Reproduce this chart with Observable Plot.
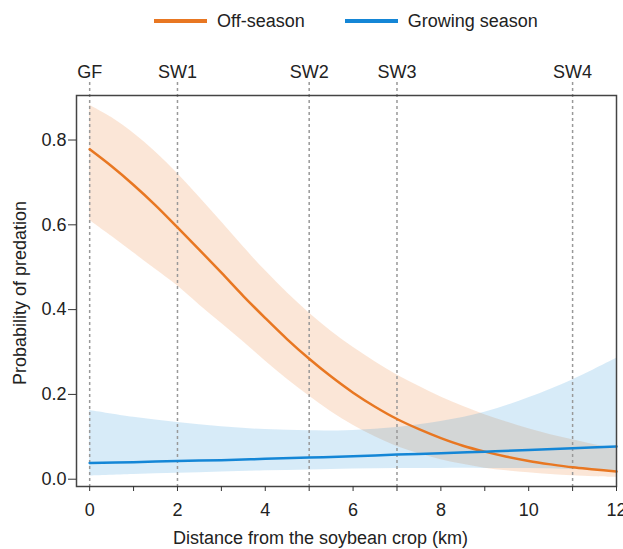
<!DOCTYPE html>
<html>
<head>
<meta charset="utf-8">
<script src="https://cdn.jsdelivr.net/npm/d3@7"></script>
<script src="https://cdn.jsdelivr.net/npm/@observablehq/plot@0.6"></script>
<style>
  body { margin: 0; background: #fff; font-family: "Liberation Sans", Arial, sans-serif; }
  #legend { box-sizing: border-box; width: 623px; height: 42px; padding-left: 69px; display: flex; align-items: center; justify-content: center; font-size: 18px; color: #222; }
  .item { display: flex; align-items: center; }
  .item + .item { margin-left: 40px; }
  .sw { display: inline-block; width: 53px; height: 4px; margin-right: 10px; }
  #chart svg { display: block; }
</style>
</head>
<body>
<div id="legend"></div>
<div id="chart"></div>
<script>
// ---- data ----
const seriesNames = ["Off-season", "Growing season"];
const seriesColors = ["#E87722", "#1486D6"];

// Off-season: distance (km), fitted probability and 95% band
const offDistance = [0,0.5,1,1.5,2,2.5,3,3.5,4,4.5,5,5.5,6,6.5,7,7.5,8,8.5,9,9.5,10,10.5,11,11.5,12];
const offFit   = [0.778,0.738,0.694,0.646,0.594,0.541,0.487,0.432,0.380,0.330,0.284,0.242,0.204,0.171,0.142,0.118,0.097,0.079,0.065,0.053,0.043,0.035,0.028,0.023,0.018];
const offUpper = [0.882,0.853,0.816,0.772,0.721,0.665,0.607,0.548,0.492,0.440,0.392,0.349,0.311,0.277,0.246,0.219,0.194,0.172,0.152,0.135,0.119,0.105,0.093,0.081,0.072];
const offLower = [0.611,0.573,0.534,0.495,0.456,0.411,0.368,0.324,0.279,0.236,0.196,0.159,0.127,0.100,0.077,0.060,0.046,0.035,0.026,0.020,0.015,0.011,0.008,0.006,0.0045];

// Growing season
const growDistance = [0,1,2,3,4,5,6,7,8,9,10,11,12];
const growFit   = [0.038,0.040,0.043,0.045,0.048,0.051,0.054,0.058,0.061,0.065,0.069,0.073,0.077];
const growUpper = [0.162,0.146,0.134,0.124,0.117,0.114,0.115,0.122,0.136,0.158,0.192,0.234,0.285];
const growLower = [0.0075,0.011,0.014,0.017,0.020,0.022,0.024,0.025,0.0255,0.0255,0.025,0.023,0.020];

// Sites marked along the top
const siteNames = ["GF","SW1","SW2","SW3","SW4"];
const siteDistances = [0,2,5,7,11];

// Axes
const xTicks = [0,1,2,3,4,5,6,7,8,9,10,11,12];
const yTicks = [0,0.2,0.4,0.6,0.8];
const xTitle = "Distance from the soybean crop (km)";
const yTitle = "Probability of predation";

// ---- legend ----
const legend = document.getElementById("legend");
seriesNames.forEach((name, i) => {
  const item = document.createElement("div");
  item.className = "item";
  const sw = document.createElement("span");
  sw.className = "sw";
  sw.style.background = seriesColors[i];
  const lab = document.createElement("span");
  lab.textContent = name;
  item.appendChild(sw); item.appendChild(lab);
  legend.appendChild(item);
});

// ---- tables ----
const offRows = offDistance.map((d, i) => ({d, fit: offFit[i], lo: offLower[i], hi: offUpper[i]}));
const growRows = growDistance.map((d, i) => ({d, fit: growFit[i], lo: growLower[i], hi: growUpper[i]}));

const FONT = "'Liberation Sans', Arial, sans-serif";
const FS = 18;
const plot = Plot.plot({
  width: 623,
  height: 507,
  marginTop: 53,
  marginBottom: 63,
  marginLeft: 76,
  marginRight: 7,
  x: {domain: [-0.3, 12]},
  y: {domain: [-0.0172, 0.905]},
  style: {fontFamily: FONT, fontSize: FS + "px", color: "#222", background: "white"},
  marks: [
    Plot.areaY(offRows, {x: "d", y1: "lo", y2: "hi", fill: seriesColors[0], fillOpacity: 0.18, curve: "catmull-rom"}),
    Plot.areaY(growRows, {x: "d", y1: "lo", y2: "hi", fill: seriesColors[1], fillOpacity: 0.17, curve: "catmull-rom"}),
    Plot.ruleX(siteDistances, {x: d => d, stroke: "#999", strokeWidth: 1.5, strokeDasharray: "3,3", insetTop: -13}),
    Plot.text(siteNames, {x: (d, i) => siteDistances[i], text: d => d, frameAnchor: "top", lineAnchor: "bottom", dy: -18, fontSize: FS, fill: "#222"}),
    Plot.line(offRows, {x: "d", y: "fit", stroke: seriesColors[0], strokeWidth: 2.5, curve: "catmull-rom"}),
    Plot.line(growRows, {x: "d", y: "fit", stroke: seriesColors[1], strokeWidth: 2.5, curve: "catmull-rom"}),
    Plot.frame({stroke: "#444", strokeWidth: 1.5}),
    Plot.axisY({ticks: yTicks, tickFormat: d3.format(".1f"), tickSize: 8, tickPadding: 2, fontSize: FS, label: null, stroke: "#333"}),
    Plot.axisX({ticks: xTicks, tickFormat: d => (d % 2 === 0 ? String(d) : ""), tickSize: 5, tickPadding: 12, fontSize: FS, label: null, stroke: "#333"}),
    Plot.text([xTitle], {text: d => d, frameAnchor: "bottom", textAnchor: "middle", lineAnchor: "bottom", dy: 57, dx: -26, fontSize: FS, fill: "#222"}),
    Plot.text([yTitle], {text: d => d, frameAnchor: "left", textAnchor: "middle", rotate: -90, lineAnchor: "bottom", dx: -51, dy: 2, fontSize: FS, fill: "#222"})
  ]
});
document.getElementById("chart").appendChild(plot);
</script>
</body>
</html>
